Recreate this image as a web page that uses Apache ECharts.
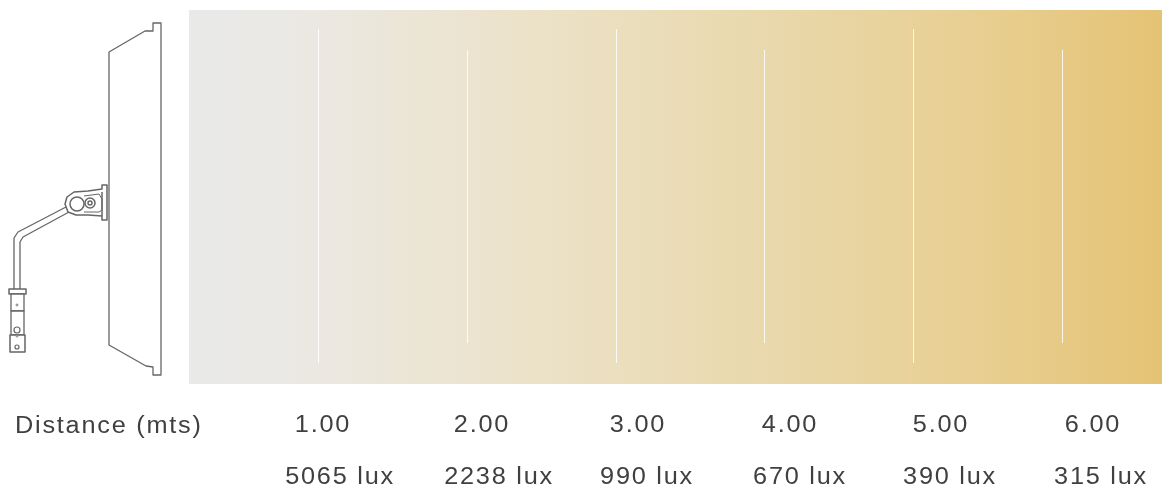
<!DOCTYPE html>
<html><head><meta charset="utf-8">
<style>html,body{margin:0;padding:0;background:#fff}#c{width:1162px;height:489px}</style>
<script src="https://cdn.jsdelivr.net/npm/echarts@6/dist/echarts.min.js"></script>
</head><body><div id="c"></div>
<script>
const distances = [1, 2, 3, 4, 5, 6];
const distanceLabels = ['1.00', '2.00', '3.00', '4.00', '5.00', '6.00'];
const luxLabels = ['5065 lux', '2238 lux', '990 lux', '670 lux', '390 lux', '315 lux'];
const rowTitle = 'Distance (mts)';
const markTops = [29, 50, 29, 50, 29, 50];
const markBottoms = [363, 343, 363, 343, 363, 343];
const distanceLabelCentres = [323, 482, 638, 790, 941, 1093];
const luxLabelCentres = [340, 499, 647, 800, 950, 1101];
const bandExtent = [0.133, 6.672], bandY = [10, 384];

// The reference text is tracked out; canvas supports that natively.
const nativeFillText = CanvasRenderingContext2D.prototype.fillText;
CanvasRenderingContext2D.prototype.fillText = function (t, x, y, m) {
  this.letterSpacing = '1.6px';
  return m === undefined ? nativeFillText.call(this, t, x, y) : nativeFillText.call(this, t, x, y, m);
};

const chart = echarts.init(document.getElementById('c'), null, {renderer: 'canvas'});
const ink = '#404040', lampInk = '#666';
const SX = 1.1;
function label(text, cx, cy, align) {
  return {type: 'text', silent: true, x: cx, y: cy, scaleX: SX, scaleY: 1, z: 5,
    style: {text, x: 0, y: 0, align: align || 'center', verticalAlign: 'middle',
      font: '400 23px "Liberation Sans", Arial, sans-serif', fill: ink}};
}
function poly(points, closed, w) {
  return {type: closed ? 'polygon' : 'polyline', silent: true, z: 4,
    shape: {points}, style: {stroke: lampInk, fill: closed ? '#fff' : null, lineWidth: w || 1.3, lineJoin: 'round'}};
}
function circle(cx, cy, r, w, fill) {
  return {type: 'circle', silent: true, z: 6, shape: {cx, cy, r},
    style: {stroke: lampInk, fill: fill || '#fff', lineWidth: w || 1}};
}
const lamp = [
  poly([[109,52],[145,31],[153,31],[153,23],[161,23],[161,375],[153,375],[153,367],[146,366],[109,345]], true, 1.3),
  poly([[66,207],[18,232],[14,238],[14,289]], false),
  poly([[69,212],[23,237],[20,242],[20,289]], false),
  poly([[9,289],[26,289],[26,294],[9,294]], true, 1.5),
  poly([[11,294],[24,294],[24,311],[11,311]], true),
  poly([[11,311],[24,311],[24,335],[11,335]], true),
  poly([[10,335],[25,335],[25,352],[10,352]], true, 1.5),
  circle(17,305,1,0.8), circle(17,330,3,1.2), circle(17,336,1,0.8), circle(17,347,2,1.2),
  poly([[102,189],[102,185],[107,185],[107,220],[102,220],[102,216],[88,215],[76,215],[68,212],[65,204],[67,197],[74,192],[88,191]], true, 1.5),
  poly([[102,192],[102,216]], false, 1.5),
  circle(77,204,7,1.5),
  poly([[84,196],[99,194],[102,199],[102,210],[99,212],[84,212]], false, 1),
  circle(90,203,5,1.5), circle(90,203,2,1.5)
];
const texts = [label(rowTitle, 15, 426.5, 'left')]
  .concat(distanceLabels.map((t, i) => label(t, distanceLabelCentres[i], 425.5)))
  .concat(luxLabels.map((t, i) => label(t, luxLabelCentres[i], 477.5)));

chart.setOption({
  animation: false,
  backgroundColor: '#fff',
  grid: {left: 0, right: 0, top: 0, bottom: 0},
  xAxis: {type: 'value', min: 1 - 318 / 148.8, max: 1 + 844 / 148.8, show: false},
  yAxis: {type: 'value', min: 0, max: 489, inverse: true, show: false},
  graphic: lamp.concat(texts),
  series: [
    {type: 'custom', silent: true, z: 1, coordinateSystem: 'cartesian2d', data: [[bandExtent[0], bandY[0], bandExtent[1], bandY[1]]],
      encode: {x: [0, 2], y: [1, 3]},
      renderItem(p, api) {
        const a = api.coord([api.value(0), api.value(1)]), b = api.coord([api.value(2), api.value(3)]);
        return {type: 'rect', shape: {x: a[0], y: a[1], width: b[0] - a[0], height: b[1] - a[1]},
          style: {fill: new echarts.graphic.LinearGradient(0, 0, 1, 0, [
            {offset: 0, color: '#e9e9e9'}, {offset: 0.1, color: '#ebe9e5'}, {offset: 0.35, color: '#ece2c9'},
            {offset: 0.6, color: '#e9d8ab'}, {offset: 0.8, color: '#e8cf93'}, {offset: 1, color: '#e5c375'}])}};
      }},
    {type: 'custom', silent: true, z: 2, coordinateSystem: 'cartesian2d',
      data: distances.map((d, i) => [d, markTops[i], markBottoms[i]]),
      encode: {x: 0, y: [1, 2]},
      renderItem(p, api) {
        const a = api.coord([api.value(0), api.value(1)]), b = api.coord([api.value(0), api.value(2)]);
        const x = Math.round(a[0]) + 0.5;
        return {type: 'line', shape: {x1: x, y1: a[1], x2: x, y2: b[1]}, style: {stroke: '#fff', lineWidth: 1, opacity: 0.85}};
      }}
  ]
});
</script></body></html>
